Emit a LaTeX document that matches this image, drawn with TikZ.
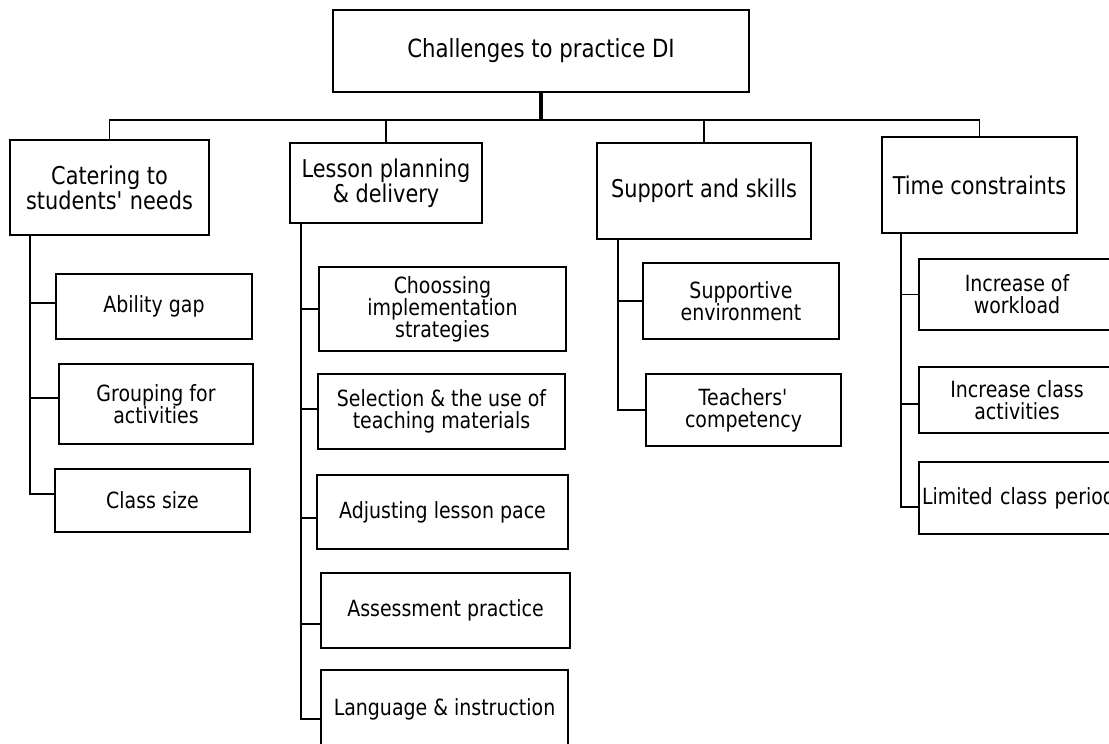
\documentclass[tikz,border=0pt]{standalone}
\usepackage{fontspec}
\setmainfont{DejaVu Sans}[FakeStretch=0.85]

\begin{document}
\begin{tikzpicture}[x=1pt,y=-1pt]

 \tikzset{
      boxstl/.style={draw,line width=1.8pt,rectangle,inner sep=2pt,align=center},
      headstl/.style={boxstl,font=\fontsize{24.5}{25}\selectfont},
      itemstl/.style={boxstl,font=\fontsize{22.3}{22}\selectfont},
      linestl/.style={line width=1.8pt},
    }

 \useasboundingbox (0,0) rectangle (1109,744);

 %% top and the four headings.
 \node[headstl,font=\fontsize{25}{25}\selectfont,minimum width=416pt,minimum height=82pt] (top) at (541,51) {Challenges to practice DI};

 \node[headstl,minimum width=199pt,minimum height=95pt] (cat) at (109.5,187.5) {Catering to\\students\textquotesingle{} needs};
 \node[headstl,minimum width=192pt,minimum height=80pt] (les) at (386,183) {Lesson planning\\\& delivery};
 \node[headstl,minimum width=214pt,minimum height=96pt] (sup) at (704,191) {Support and skills};
 \node[headstl,minimum width=195pt,minimum height=96pt] (tim) at (979.5,185) {Time constraints};

 \coordinate (bus) at (541,120);

 \draw[line width=4pt] (top.south) -- (bus);
 \draw[linestl] (cat.north) |- (bus) -| (tim.north);
 \draw[linestl] (les.north) -- (les.north |- bus);
 \draw[linestl] (sup.north) -- (sup.north |- bus);

 %% first column
 \node[itemstl,minimum width=196pt,minimum height=65pt] (abl) at (154,306.5) {Ability gap};
 \node[itemstl,minimum width=194pt,minimum height=80pt] (grp) at (156,404) {Grouping for\\activities};
 \node[itemstl,minimum width=195pt,minimum height=63pt] (csz) at (152.5,500.5) {Class size};

 \coordinate (ct) at ([xshift=21pt]cat.south west);
 \draw[linestl] (ct) |- ([yshift=3.5pt]abl.west);
 \draw[linestl] (ct) |- ([yshift=6pt]grp.west);
 \draw[linestl] (ct) |- ([yshift=6.5pt]csz.west);

 %% second column
 \node[itemstl,minimum width=247pt,minimum height=84pt] (cho) at (442.5,309) {Choossing\\implementation\\strategies};
 \node[itemstl,minimum width=247pt,minimum height=75pt] (sel) at (441.5,411.5) {Selection \& the use of\\teaching materials};
 \node[itemstl,minimum width=251pt,minimum height=74pt] (adj) at (442.5,512) {Adjusting lesson pace};
 \node[itemstl,minimum width=249pt,minimum height=75pt] (ass) at (445.5,610.5) {Assessment practice};
 \node[itemstl,minimum width=247pt,minimum height=78pt] (lan) at (444.5,709) {Language \& instruction};

 \coordinate (lt) at ([xshift=12pt]les.south west);
 \draw[linestl] (lt) |- (cho.west);
 \draw[linestl] (lt) |- ([yshift=2.5pt]sel.west);
 \draw[linestl] (lt) |- ([yshift=-6pt]adj.west);
 \draw[linestl] (lt) |- ([yshift=-13.5pt]ass.west);
 \draw[linestl] (lt) |- ([yshift=-10pt]lan.west);

 %% third column
 \node[itemstl,minimum width=196pt,minimum height=76pt] (env) at (741,301) {Supportive\\environment};
 \node[itemstl,minimum width=195pt,minimum height=72pt] (com) at (743.5,410) {Teachers\textquotesingle\\competency};

 \coordinate (st) at ([xshift=22pt]sup.south west);
 \draw[linestl] (st) |- (env.west);
 \draw[linestl] (st) |- (com.west);

 %% fourth column, cut at the right edge
 \node[itemstl,minimum width=196pt,minimum height=71pt] (wrk) at (1017,294.5) {Increase of\\workload};
 \node[itemstl,minimum width=196pt,minimum height=66pt] (act) at (1017,400) {Increase class\\activities};
 \node[itemstl,minimum width=196pt,minimum height=72pt,text width=190pt,align=left] (lim) at (1017,498) {\mbox{Limited class period}};

 \coordinate (tt) at ([xshift=20pt]tim.south west);
 \draw[linestl] (tt) |- (wrk.west);
 \draw[linestl] (tt) |- ([yshift=-4pt]act.west);
 \draw[linestl] (tt) |- ([yshift=-9pt]lim.west);

\end{tikzpicture}
\end{document}
